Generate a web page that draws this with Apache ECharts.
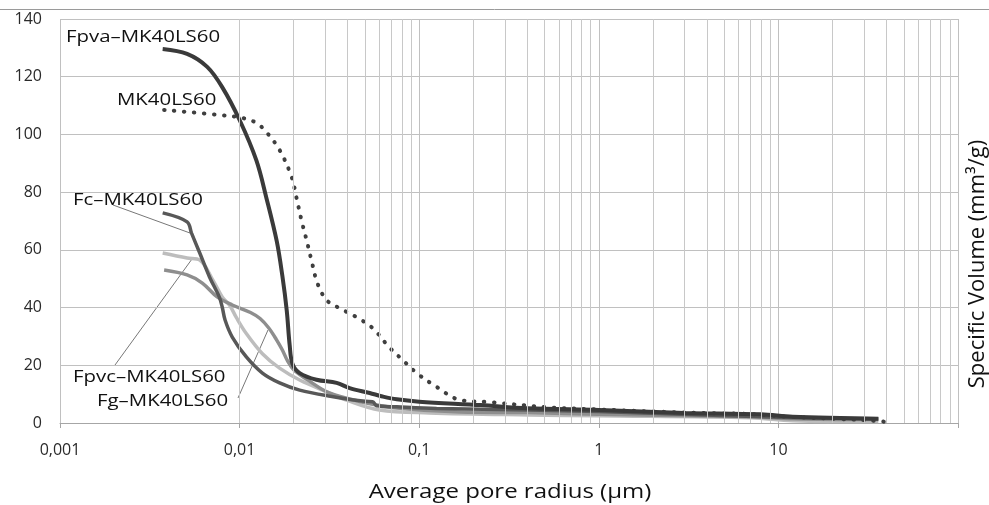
<!DOCTYPE html>
<html>
<head>
<meta charset="utf-8">
<script src="https://cdn.jsdelivr.net/npm/echarts@6/dist/echarts.min.js"></script>
<style>html,body{margin:0;padding:0;background:#fff;}#c{width:989px;height:505px;}</style>
</head>
<body>
<div id="c"></div>
<script>
// ---- data (pore radius in µm, specific volume in mm3/g) ----
const seriesNames = ['Fpva–MK40LS60','MK40LS60','Fc–MK40LS60','Fpvc–MK40LS60','Fg–MK40LS60'];
const fpva = [[0.00373,129.6],[0.0051,127.9],[0.0066,123.4],[0.0080,116.4],[0.0100,105],[0.0124,91],[0.0141,78],[0.0161,63],[0.0173,51],[0.0183,39],[0.0190,27],[0.0197,20.5],[0.0216,17.3],[0.0268,15],[0.0347,13.9],[0.041,12.1],[0.053,10.4],[0.0625,9.2],[0.075,8.2],[0.1,7.4],[0.22,6.2],[0.4,5.1],[1,4.5],[3,3.5],[8,3.0],[12,2.2],[36,1.5]];
const mk = [[0.0038,108.5],[0.0088,106.4],[0.0104,105.7],[0.0124,104],[0.0141,100.8],[0.0167,94.6],[0.0195,85.2],[0.0207,78.3],[0.0221,70.3],[0.0236,63.4],[0.0251,56.5],[0.0271,48.5],[0.0305,42.6],[0.036,39.8],[0.0447,36.7],[0.055,32.9],[0.068,26.3],[0.081,21.8],[0.097,17.3],[0.125,12.5],[0.168,8],[0.25,7.2],[0.53,5.4],[1,4.7],[2.2,3.9],[4,3.4],[7,3.1],[11,2.2],[22,1.4],[36,0.7],[41,0.2]];
const fc = [[0.00373,72.8],[0.0051,69.7],[0.0054,65.8],[0.006,58.9],[0.0068,50.6],[0.0077,43.7],[0.0080,40.2],[0.0083,35.7],[0.0091,29.8],[0.0109,22.9],[0.0134,17.3],[0.0167,13.9],[0.0216,11.4],[0.032,9.3],[0.05,7.5],[0.055,7.4],[0.058,6.0],[0.075,5.6],[0.125,5.0],[0.41,4.5],[1,4.0],[10,2.0],[36,1.5]];
const fpvc = [[0.00373,58.9],[0.0051,57.2],[0.006,56.5],[0.0071,49.5],[0.0080,43.7],[0.0088,40.8],[0.0096,36.5],[0.0109,31],[0.0134,24],[0.0167,19],[0.0216,14.9],[0.0316,10.4],[0.039,8],[0.06,4.5],[0.114,3.5],[0.41,2.8],[1,2.5],[7,1.8],[12,0.8],[36,0.5]];
const fg = [[0.0038,53],[0.0051,51.3],[0.0062,48.5],[0.0075,43.7],[0.0091,40.9],[0.0115,38.3],[0.013,36.2],[0.0145,33],[0.016,29],[0.0173,25.3],[0.0185,21.5],[0.02,18.5],[0.0245,14.5],[0.0316,10.4],[0.048,7.3],[0.075,5.2],[0.17,3.8],[0.41,3.6],[1,3],[7,2.2],[12,1.5],[36,1.2]];
const xTickLabels = ['0,001','0,01','0,1','1','10',''];
const yTicks = [0,20,40,60,80,100,120,140];
const minorGrid = [];
[0.001,0.01,0.1,1,10].forEach(d => { for (let k = 2; k <= 9; k++) minorGrid.push(+(d*k).toPrecision(3)); });

const chart = echarts.init(document.getElementById('c'), null, {renderer:'canvas'});
const FONT = '"Open Sans", "Liberation Sans", sans-serif';
function lineSeries(name, data, color, extra) {
  return Object.assign({
    name, type:'line', data, showSymbol:false, symbol:'none', smooth:0.35,
    lineStyle:{color, width:3.5}, itemStyle:{color}, z:3
  }, extra || {});
}
function label(text, x, y) {
  return {type:'text', x, y, scaleX:1.2, z:10,
    style:{text, fill:'#111', font:'17px ' + FONT, textAlign:'left', textVerticalAlign:'middle'}};
}
chart.setOption({
  animation:false,
  grid:{left:60, right:31, top:19, bottom:82},
  xAxis:{
    type:'log', logBase:10, min:0.001, max:100,
    axisLine:{show:true, lineStyle:{color:'#a6a6a6', width:1}},
    axisTick:{show:true, length:5, lineStyle:{color:'#a6a6a6'}},
    splitLine:{show:true, lineStyle:{color:'#c0c0c0', width:1}},
    axisLabel:{margin:19, color:'#2a2a2a', fontSize:16, fontFamily:FONT,
      formatter:v => xTickLabels[Math.round(Math.log10(v)) + 3] || ''}
  },
  yAxis:{
    type:'value', min:0, max:140, interval:20,
    axisLine:{show:false}, axisTick:{show:false},
    splitLine:{show:true, lineStyle:{color:'#c0c0c0', width:1}},
    axisLabel:{margin:18, color:'#2a2a2a', fontSize:16, fontFamily:FONT}
  },
  series:[
    {type:'line', data:[], silent:true, z:1,
      markLine:{silent:true, symbol:'none', animation:false, label:{show:false},
        lineStyle:{color:'#c8c8c8', width:1, type:'solid'},
        data:minorGrid.map(v => ({xAxis:v}))}},
    lineSeries(seriesNames[3], fpvc, '#bdbdbd'),
    lineSeries(seriesNames[4], fg, '#8e8e8e'),
    lineSeries(seriesNames[2], fc, '#585858'),
    lineSeries(seriesNames[1], mk, '#3f3f3f', {lineStyle:{color:'#3f3f3f', width:4, type:[0.5,9.5], cap:'round'}}),
    lineSeries(seriesNames[0], fpva, '#3a3a3a', {lineStyle:{color:'#3a3a3a', width:4}})
  ],
  graphic:[
    {type:'line', shape:{x1:0,y1:9.5,x2:989,y2:9.5}, style:{stroke:'#9a9a9a', lineWidth:1}},
    label(seriesNames[0], 66, 37),
    label(seriesNames[1], 117, 100),
    label(seriesNames[2], 73, 200),
    label(seriesNames[3], 73, 377),
    label(seriesNames[4], 97, 401),
    {type:'line', shape:{x1:113,y1:205,x2:190,y2:233}, style:{stroke:'#777', lineWidth:1}},
    {type:'line', shape:{x1:115,y1:365,x2:192,y2:259}, style:{stroke:'#777', lineWidth:1}},
    {type:'line', shape:{x1:238,y1:398,x2:268,y2:330}, style:{stroke:'#777', lineWidth:1}},
    {type:'text', x:510, y:492, scaleX:1.2, style:{text:'Average pore radius (µm)', fill:'#111', font:'20px ' + FONT, textAlign:'center', textVerticalAlign:'middle'}},
    {type:'text', x:978, y:264, rotation:Math.PI/2, style:{text:'Specific Volume (mm³/g)', fill:'#111', font:'22px ' + FONT, textAlign:'center', textVerticalAlign:'middle'}}
  ]
});
</script>
</body>
</html>
